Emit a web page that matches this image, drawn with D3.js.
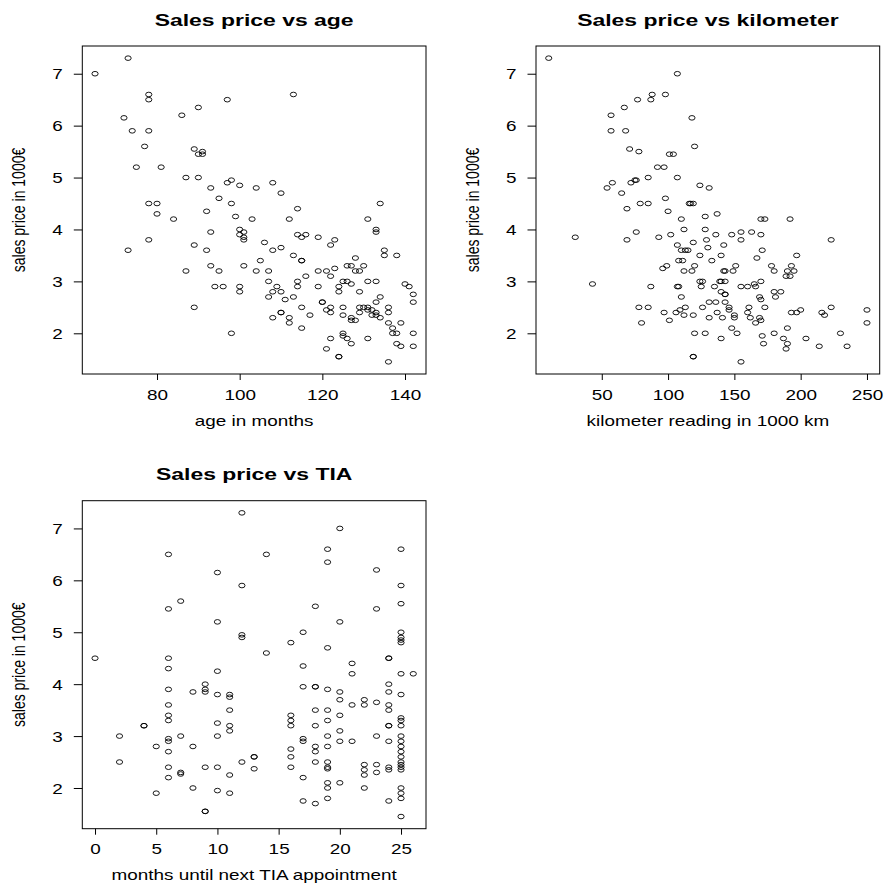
<!DOCTYPE html>
<html>
<head>
<meta charset="utf-8">
<script src="https://cdn.jsdelivr.net/npm/d3@7"></script>
<style>
  body { margin: 0; background: #fff; }
  text { font-family: "Liberation Sans", Arial, sans-serif; fill: #000; }
</style>
</head>
<body>
<div class="board"></div>
<script>
// [age in months, sales price in 1000 EUR]
var ageData = [
  [65,7.0],[73,7.3],[78,6.6],[78,6.5],[90,6.35],[97,6.5],[72,6.15],[86,6.2],[74,5.9],[78,5.9],
  [77,5.6],[89,5.55],[90,5.45],[91,5.45],[91,5.5],[75,5.2],[81,5.2],[87,5.0],[90,5.0],[93,4.8],
  [97,4.9],[98,4.95],[95,4.6],[78,4.5],[80,4.5],[80,4.3],[92,4.35],[98,4.5],[84,4.2],[99,4.25],
  [93,3.95],[78,3.8],[73,3.6],[89,3.7],[92,3.6],[93,3.3],[95,3.2],[87,3.2],[94,2.9],[96,2.9],
  [89,2.5],[98,2.0],[113,6.6],[100,4.85],[104,4.8],[108,4.9],[110,4.7],[103,4.2],[114,4.4],[112,4.2],
  [100,4.0],[100,3.9],[101,3.95],[101,3.85],[101,3.8],[106,3.75],[108,3.6],[110,3.65],[114,3.9],[115,3.85],
  [116,3.9],[119,3.85],[122,3.7],[123,3.8],[134,4.5],[131,4.2],[133,4.0],[133,3.95],[135,3.6],[135,3.5],
  [138,3.5],[105,3.4],[101,3.3],[104,3.2],[107,3.2],[113,3.5],[115,3.4],[115,3.4],[116,3.1],[119,3.2],
  [121,3.2],[122,3.1],[123,3.25],[128,3.45],[126,3.3],[127,3.3],[128,3.2],[129,3.2],[130,3.3],[100,2.9],
  [100,2.8],[107,3.0],[109,2.9],[108,2.8],[110,2.8],[107,2.7],[111,2.65],[113,2.7],[114,3.0],[114,2.9],
  [119,2.9],[120,2.6],[120,2.6],[121,2.45],[122,2.5],[122,2.4],[124,2.9],[124,2.8],[125,3.0],[126,3.0],
  [127,2.95],[129,2.8],[131,3.0],[133,3.0],[134,2.7],[133,2.6],[125,2.5],[125,2.35],[127,2.3],[127,2.25],
  [128,2.25],[129,2.5],[130,2.5],[131,2.5],[132,2.45],[133,2.4],[132,2.35],[133,2.35],[134,2.3],[129,2.4],
  [131,2.45],[136,2.5],[136,2.4],[136,2.2],[139,2.2],[137,2.1],[137,2.0],[138,2.0],[138,1.8],[139,1.75],
  [142,2.0],[142,1.75],[140,2.95],[141,2.9],[142,2.75],[142,2.6],[108,2.3],[110,2.4],[110,2.4],[112,2.3],
  [112,2.2],[115,2.5],[117,2.35],[115,2.1],[122,1.9],[121,1.7],[124,1.55],[124,1.55],[125,2.0],[125,1.95],
  [126,1.9],[127,1.8],[131,1.9],[136,1.45]
];

// [kilometer reading in 1000 km, sales price]
var kmData = [
  [10,7.3],[107,7.0],[30,3.85],[43,2.95],[57,6.2],[67,6.35],[77,6.5],[87,6.5],[88,6.6],[98,6.6],
  [57,5.9],[68,5.9],[71,5.55],[78,5.5],[101,5.45],[104,5.45],[92,5.2],[97,5.2],[107,5.0],[85,5.0],
  [54,4.8],[58,4.9],[65,4.7],[72,4.9],[75,4.95],[76,4.95],[69,4.4],[79,4.5],[85,4.5],[98,4.6],
  [100,4.35],[116,4.5],[110,4.2],[76,3.95],[69,3.8],[93,3.85],[102,3.9],[112,4.0],[107,3.7],[110,3.6],
  [113,3.6],[115,3.6],[108,3.4],[111,3.4],[96,3.25],[99,3.3],[112,3.2],[87,2.9],[107,2.9],[108,2.9],
  [110,2.7],[78,2.5],[85,2.5],[80,2.2],[97,2.4],[101,2.25],[106,2.4],[109,2.45],[113,2.5],[112,2.35],
  [118,6.15],[120,5.6],[124,4.85],[131,4.8],[117,4.5],[119,4.5],[128,4.25],[137,4.3],[128,4.0],[119,3.75],
  [129,3.8],[130,3.65],[136,3.9],[142,3.7],[148,3.9],[155,3.95],[155,3.8],[163,3.95],[170,3.9],[170,4.2],
  [173,4.2],[192,4.2],[171,3.6],[167,3.45],[223,3.8],[197,3.5],[193,3.3],[178,3.3],[180,3.2],[190,3.2],
  [195,3.2],[189,3.1],[192,3.1],[124,3.5],[133,3.4],[140,3.5],[118,3.2],[120,3.3],[142,3.2],[143,3.2],
  [149,3.2],[151,3.3],[124,3.0],[126,3.0],[125,2.9],[139,3.0],[140,3.0],[143,3.0],[135,2.9],[143,2.75],
  [143,2.75],[140,2.8],[155,2.9],[160,2.9],[165,2.95],[166,2.9],[170,3.0],[169,2.7],[170,2.65],[180,2.8],
  [185,2.8],[181,2.7],[119,2.35],[126,2.5],[131,2.6],[136,2.6],[137,2.4],[141,2.3],[143,2.6],[146,2.5],
  [146,2.45],[150,2.35],[150,2.3],[131,2.3],[161,2.5],[160,2.4],[162,2.3],[166,2.2],[169,2.3],[170,2.25],
  [173,2.5],[193,2.4],[197,2.4],[200,2.45],[216,2.4],[218,2.35],[223,2.5],[250,2.45],[250,2.2],[120,2.0],
  [128,2.0],[140,1.9],[148,2.1],[152,2.0],[171,1.95],[172,1.8],[180,2.0],[187,1.9],[190,1.8],[189,1.7],
  [190,2.1],[204,1.9],[214,1.75],[230,2.0],[235,1.75],[119,1.55],[119,1.55],[155,1.45]
];

// [months until next TIA appointment, sales price]
var tiaData = [
  [0,4.5],[2,3.0],[2,2.5],[4,3.2],[4,3.2],[5,2.8],[5,1.9],[6,6.5],[6,5.45],[6,4.5],
  [6,4.3],[6,3.9],[6,3.6],[6,3.4],[6,3.3],[6,2.95],[6,2.9],[6,2.7],[6,2.4],[6,2.2],
  [7,5.6],[7,3.0],[7,2.3],[7,2.27],[8,3.85],[8,2.8],[8,2.0],[9,4.0],[9,3.9],[9,3.85],
  [9,2.4],[9,1.55],[9,1.55],[10,6.15],[10,5.2],[10,4.25],[10,3.8],[10,3.25],[10,3.0],[10,2.4],
  [10,1.95],[11,3.8],[11,3.75],[11,3.5],[11,3.2],[11,3.1],[11,2.25],[11,1.9],[12,7.3],[12,5.9],
  [12,4.95],[12,4.9],[12,2.5],[13,2.6],[13,2.6],[13,2.37],[14,6.5],[14,4.6],[20,7.0],[19,6.6],
  [19,6.35],[25,6.6],[23,6.2],[25,5.9],[25,5.55],[18,5.5],[23,5.45],[20,5.2],[17,5.0],[16,4.8],
  [19,4.7],[25,5.0],[25,4.9],[25,4.85],[25,4.8],[17,4.35],[21,4.4],[21,4.2],[24,4.5],[24,4.5],
  [25,4.2],[26,4.2],[17,3.95],[18,3.95],[18,3.95],[19,3.9],[20,3.85],[20,3.7],[21,3.6],[22,3.7],
  [22,3.6],[23,3.65],[24,4.0],[24,3.85],[24,3.6],[24,3.5],[25,3.8],[16,3.4],[16,3.3],[16,3.2],
  [18,3.5],[19,3.5],[19,3.3],[18,3.2],[20,3.4],[19,3.0],[20,3.1],[20,2.9],[21,2.9],[17,2.95],
  [17,2.9],[16,2.75],[16,2.6],[18,2.8],[18,2.7],[18,2.5],[19,2.8],[19,2.5],[19,2.4],[19,2.37],
  [16,2.4],[23,3.0],[24,3.2],[24,3.2],[24,2.9],[25,3.35],[25,3.3],[25,3.2],[25,3.0],[25,2.9],
  [25,2.8],[25,2.7],[25,2.6],[25,2.5],[25,2.45],[25,2.4],[25,2.35],[22,2.45],[22,2.35],[22,2.25],
  [23,2.45],[23,2.3],[24,2.4],[24,2.35],[17,2.2],[20,2.1],[19,2.1],[19,2.0],[22,2.0],[19,1.8],
  [17,1.75],[18,1.7],[24,1.75],[25,2.0],[25,1.9],[25,1.8],[25,1.45]
];

var priceTicks = [2, 3, 4, 5, 6, 7];
var ageTicks = [80, 100, 120, 140];
var kmTicks = [50, 100, 150, 200, 250];
var tiaTicks = [0, 5, 10, 15, 20, 25];

var yLabel = "sales price in 1000€";

// the reference image is stretched sideways, so text and circles are too
var sx = 1.35;
var pw = 343.7, ph = 328;

var panels = [
  { data: ageData, ticks: ageTicks, left: 82.3, top: 46,
    title: "Sales price vs age", xlab: "age in months" },
  { data: kmData, ticks: kmTicks, left: 536, top: 46,
    title: "Sales price vs kilometer", xlab: "kilometer reading in 1000 km" },
  { data: tiaData, ticks: tiaTicks, left: 82.3, top: 500.7,
    title: "Sales price vs TIA", xlab: "months until next TIA appointment" }
];

// R pads the data range by 4% on each side
function pad(ext) {
  var d = (ext[1] - ext[0]) * 0.04;
  return [ext[0] - d, ext[1] + d];
}

var svg = d3.select(".board").append("svg")
            .attr("width", 884)
            .attr("height", 887);

panels.forEach(function(p) {
  var x = d3.scaleLinear()
            .domain(pad(d3.extent(p.data, function(d) { return d[0]; })))
            .range([0, pw]);
  var y = d3.scaleLinear()
            .domain(pad(d3.extent(p.data, function(d) { return d[1]; })))
            .range([ph, 0]);

  var g = svg.append("g").attr("transform", "translate(" + p.left + "," + p.top + ")");

  // points
  g.selectAll("ellipse")
   .data(p.data)
   .enter()
   .append("ellipse")
   .attr("cx", function(d) { return x(d[0]); })
   .attr("cy", function(d) { return y(d[1]); })
   .attr("rx", 3.1)
   .attr("ry", 2.3)
   .style("fill", "none")
   .style("stroke", "#000")
   .style("stroke-width", 0.9);

  // x axis
  var xa = g.append("g")
            .attr("transform", "translate(0," + ph + ")")
            .call(d3.axisBottom(x).tickValues(p.ticks).tickSize(6).tickFormat(d3.format("d")));
  xa.select(".domain").remove();
  xa.selectAll("line").attr("stroke", "#000");
  xa.selectAll("text")
    .attr("y", null).attr("dy", null)
    .attr("transform", "translate(0,25.5) scale(" + sx + ",1)")
    .style("font-size", "14px");

  // y axis
  var ya = g.append("g")
            .call(d3.axisLeft(y).tickValues(priceTicks).tickSize(8.5).tickFormat(d3.format("d")));
  ya.select(".domain").remove();
  ya.selectAll("line").attr("stroke", "#000");
  ya.selectAll("text")
    .attr("x", null).attr("dy", "0.36em")
    .attr("transform", "translate(-19.6,0) scale(" + sx + ",1)")
    .style("font-size", "14px");

  // frame
  g.append("rect")
   .attr("width", pw).attr("height", ph)
   .style("fill", "none").style("stroke", "#000").style("stroke-width", 1);

  // title and axis labels
  g.append("text")
   .attr("transform", "translate(" + pw / 2 + ",-20.5) scale(" + sx + ",1)")
   .attr("text-anchor", "middle")
   .style("font-size", "17px").style("font-weight", "bold")
   .text(p.title);

  g.append("text")
   .attr("transform", "translate(" + pw / 2 + "," + (ph + 51.5) + ") scale(" + sx + ",1)")
   .attr("text-anchor", "middle")
   .style("font-size", "14px")
   .text(p.xlab);

  g.append("text")
   .attr("transform", "translate(-57.5," + ph / 2 + ") scale(" + sx + ",1) rotate(-90)")
   .attr("text-anchor", "middle")
   .style("font-size", "14px")
   .text(yLabel);
});
</script>
</body>
</html>
